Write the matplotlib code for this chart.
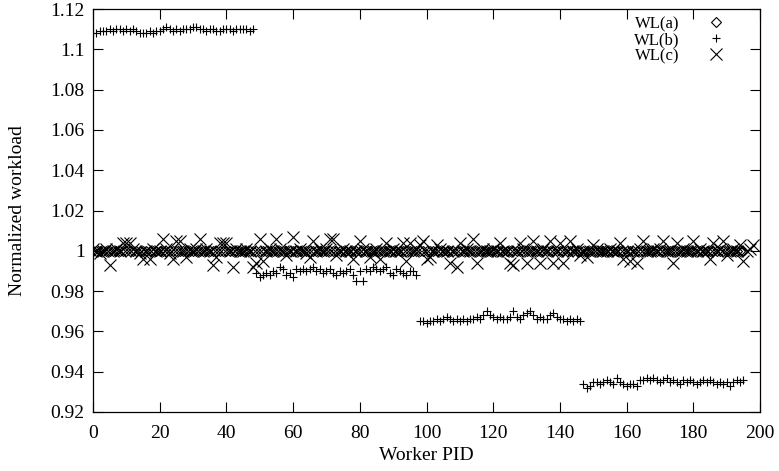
import matplotlib
matplotlib.use('Agg')
from matplotlib import pyplot as plt
from matplotlib.ticker import FuncFormatter
import numpy as np

plt.rcParams['font.family'] = ['Liberation Serif', 'DejaVu Serif']
plt.rcParams['font.size'] = 14

# workload per worker
wl_a = [1.0] * 196

wl_b = [
    # workers 0-48
    1.108, 1.108, 1.109, 1.109, 1.109, 1.110, 1.109, 1.110, 1.110, 1.109,
    1.110, 1.109, 1.110, 1.109, 1.108, 1.108, 1.108, 1.109, 1.108, 1.109,
    1.109, 1.110, 1.111, 1.110, 1.109, 1.110, 1.109, 1.110, 1.110, 1.110,
    1.111, 1.111, 1.110, 1.110, 1.109, 1.110, 1.110, 1.109, 1.109, 1.110,
    1.110, 1.110, 1.109, 1.110, 1.110, 1.110, 1.110, 1.109, 1.110,
    # workers 49-97
    0.989, 0.987, 0.988, 0.989, 0.988, 0.990, 0.989, 0.992, 0.991, 0.988,
    0.989, 0.987, 0.991, 0.990, 0.991, 0.990, 0.991, 0.992, 0.990, 0.991,
    0.989, 0.990, 0.991, 0.989, 0.988, 0.990, 0.989, 0.990, 0.991, 0.988,
    0.985, 0.990, 0.985, 0.991, 0.990, 0.992, 0.991, 0.990, 0.991, 0.992,
    0.989, 0.988, 0.991, 0.990, 0.989, 0.988, 0.990, 0.990, 0.988,
    # workers 98-146
    0.965, 0.965, 0.964, 0.965, 0.965, 0.966, 0.965, 0.966, 0.967, 0.966,
    0.965, 0.966, 0.965, 0.966, 0.965, 0.966, 0.966, 0.967, 0.966, 0.968,
    0.970, 0.968, 0.967, 0.966, 0.967, 0.966, 0.966, 0.967, 0.970, 0.967,
    0.966, 0.968, 0.969, 0.970, 0.968, 0.966, 0.967, 0.966, 0.966, 0.968,
    0.969, 0.967, 0.966, 0.966, 0.965, 0.966, 0.965, 0.966, 0.965,
    # workers 147-195
    0.934, 0.932, 0.933, 0.935, 0.935, 0.934, 0.935, 0.936, 0.935, 0.934,
    0.937, 0.935, 0.934, 0.933, 0.934, 0.934, 0.933, 0.936, 0.936, 0.937,
    0.936, 0.937, 0.936, 0.935, 0.936, 0.937, 0.935, 0.936, 0.935, 0.934,
    0.936, 0.935, 0.936, 0.935, 0.934, 0.935, 0.936, 0.935, 0.936, 0.935,
    0.934, 0.935, 0.934, 0.935, 0.933, 0.935, 0.936, 0.935, 0.936,
]

wl_c = [
    1.001, 1.000, 0.999, 1.000, 1.001, 0.993, 1.000, 1.001, 1.000, 1.004,
    1.004, 1.004, 1.001, 1.000, 0.999, 0.996, 1.000, 0.996, 1.001, 1.000,
    1.000, 1.006, 1.001, 0.999, 0.996, 1.005, 1.005, 1.000, 0.997, 1.001,
    1.000, 1.001, 1.006, 1.000, 1.001, 1.000, 0.993, 0.997, 1.004, 1.004,
    1.004, 1.000, 0.992, 1.001, 1.000, 1.000, 1.001, 1.000, 0.992, 0.994,
    1.006, 0.995, 1.000, 1.001, 1.000, 1.006, 1.001, 1.000, 0.998, 1.000,
    1.007, 1.000, 1.001, 1.000, 0.999, 0.997, 1.005, 1.000, 1.001, 1.000,
    1.001, 1.006, 1.006, 0.998, 1.000, 1.001, 1.000, 1.000, 0.996, 1.000,
    1.005, 1.001, 1.000, 0.997, 1.000, 1.001, 0.996, 1.000, 1.004, 1.000,
    1.001, 1.000, 1.000, 1.004, 0.995, 1.004, 1.000, 1.001, 1.003, 1.005,
    0.996, 0.997, 1.000, 1.003, 1.001, 1.000, 1.000, 0.994, 1.000, 0.992,
    1.004, 1.000, 1.001, 1.000, 1.006, 0.994, 1.000, 1.001, 1.000, 1.000,
    1.001, 1.000, 1.004, 1.000, 1.000, 0.994, 0.993, 1.000, 1.004, 1.001,
    0.994, 1.000, 1.005, 1.000, 0.994, 1.001, 1.000, 1.005, 0.994, 1.000,
    1.004, 0.994, 1.000, 1.005, 1.000, 1.001, 0.998, 1.000, 0.997, 1.000,
    1.003, 1.001, 1.000, 1.000, 1.000, 1.001, 1.000, 1.000, 1.004, 0.996,
    1.000, 0.995, 1.000, 0.994, 1.001, 1.005, 1.000, 1.000, 1.001, 1.000,
    1.001, 1.005, 1.000, 1.000, 0.994, 1.004, 1.000, 1.001, 1.000, 1.000,
    1.005, 1.000, 1.001, 1.000, 1.000, 0.996, 1.004, 1.000, 1.001, 1.005,
    0.998, 1.000, 1.001, 1.000, 1.003, 0.995, 1.000, 1.001, 1.003,
]

x_ticks = [0, 20, 40, 60, 80, 100, 120, 140, 160, 180, 200]
y_ticks = [0.92, 0.94, 0.96, 0.98, 1.0, 1.02, 1.04, 1.06, 1.08, 1.1, 1.12]

W, H = 779, 471
fig = plt.figure(figsize=(W / 100, H / 100), dpi=100)
left, right, top, bottom = 93, 760, 9, 412
ax = fig.add_axes([left / W, 1 - bottom / H, (right - left) / W, (bottom - top) / H])

ax.plot(np.arange(len(wl_a)), wl_a, ls='none', marker='D', ms=4.8, mfc='none',
        mec='black', mew=0.8, label='WL(a)')
ax.plot(np.arange(len(wl_b)), wl_b, ls='none', marker='+', ms=6.3, mec='black',
        mew=0.8, label='WL(b)')
ax.plot(np.arange(len(wl_c)), wl_c, ls='none', marker='x', ms=8.5, mec='black',
        mew=0.8, label='WL(c)')

ax.set_xlim(0, 200)
ax.set_ylim(0.92, 1.12)
ax.set_xticks(x_ticks)
ax.set_yticks(y_ticks)
ax.yaxis.set_major_formatter(FuncFormatter(lambda v, p: '%g' % round(v, 4)))
ax.tick_params(direction='in', length=7.2, width=0.8, top=True, right=True,
               labelsize=14)
ax.tick_params(axis='y', pad=6)
ax.tick_params(axis='x', pad=9)
for s in ax.spines.values():
    s.set_linewidth(0.9)

ax.set_xlabel('Worker PID', fontsize=14)
ax.set_ylabel('Normalized workload', fontsize=14)
ax.xaxis.label.set_va('center')
ax.yaxis.label.set_va('center')
ax.xaxis.set_label_coords(0.5, -(456 - bottom) / (bottom - top))
ax.yaxis.set_label_coords((18 - left) / (right - left), 0.5)

leg = ax.legend(loc='upper right', bbox_to_anchor=(0.959, 0.982), frameon=False,
                markerfirst=False, handlelength=2.0, handletextpad=1.2,
                labelspacing=0.0, fontsize=12, borderaxespad=0.0, borderpad=0.0)

fig.savefig('out.png', dpi=100)
